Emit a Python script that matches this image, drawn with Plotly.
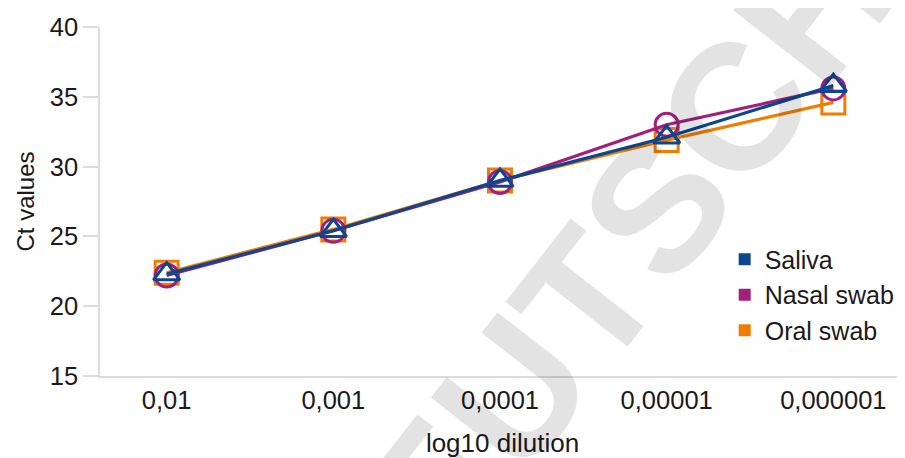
import plotly.graph_objects as go

dilutions = ["0,01", "0,001", "0,0001", "0,00001", "0,000001"]
saliva = [22.3, 25.4, 29.0, 32.1, 35.8]
nasal = [22.2, 25.4, 28.9, 33.0, 35.6]
oral = [22.4, 25.5, 29.0, 31.9, 34.6]

series_names = ["Saliva", "Nasal swab", "Oral swab"]
colors = {"Saliva": "#0d468c", "Nasal swab": "#a2207c", "Oral swab": "#f07d00"}
symbols = {"Saliva": "triangle-up-open", "Nasal swab": "circle-open", "Oral swab": "square-open"}
values = {"Saliva": saliva, "Nasal swab": nasal, "Oral swab": oral}

FONT = "Liberation Sans, Arial, Helvetica, sans-serif"
TXT = "#1a1a1a"

fig = go.Figure()

# draw order: oral bottom, nasal, saliva on top
for name in ["Oral swab", "Nasal swab", "Saliva"]:
    fig.add_trace(go.Scatter(
        x=dilutions, y=values[name], mode="lines+markers", name=name,
        showlegend=False,
        line=dict(color=colors[name], width=3.2),
        marker=dict(symbol=symbols[name], size=23, color=colors[name],
                    line=dict(width=3, color=colors[name])),
    ))

# legend entries (square swatches)
for name in series_names:
    fig.add_trace(go.Scatter(
        x=[None], y=[None], mode="markers", name=name,
        marker=dict(symbol="square", size=12, color=colors[name]),
    ))

fig.update_layout(
    width=897, height=450,
    margin=dict(l=92, r=0, t=19, b=82),
    plot_bgcolor="white", paper_bgcolor="white",
    font=dict(family=FONT, size=25, color=TXT),
    showlegend=True,
    legend=dict(x=0.776, xanchor="left", y=0.40, yanchor="top",
                font=dict(size=25, color=TXT),
                bgcolor="rgba(0,0,0,0)", tracegroupgap=0, itemsizing="trace"),
    xaxis=dict(
        type="category", range=[-0.4, 4.43],
        showline=True, linecolor="#dcdcdc", linewidth=1.5,
        showgrid=False, zeroline=False, ticks="",
        ticklabelstandoff=1,
        tickfont=dict(size=25.5, color=TXT),
        title=dict(text="log10 dilution", standoff=24, font=dict(size=26, color=TXT)),
    ),
    yaxis=dict(
        range=[15, 40], tickvals=[15, 20, 25, 30, 35, 40],
        showline=True, linecolor="#dcdcdc", linewidth=1.5,
        showgrid=False, zeroline=False,
        ticks="outside", ticklen=15, tickcolor="#dcdcdc", tickwidth=1.5,
        tickfont=dict(size=25.5, color=TXT),
        title=dict(text="Ct values", standoff=8, font=dict(size=24, color=TXT)),
    ),
)

# faint watermark
fig.add_annotation(
    text="<b>DEUTSCHE</b>", xref="paper", yref="paper",
    x=0.65, y=0.36, showarrow=False, textangle=-52,
    font=dict(family="Liberation Sans, Arial, sans-serif", size=180, color="rgba(0,0,0,0.11)"),
)

fig.write_html("out.html")
